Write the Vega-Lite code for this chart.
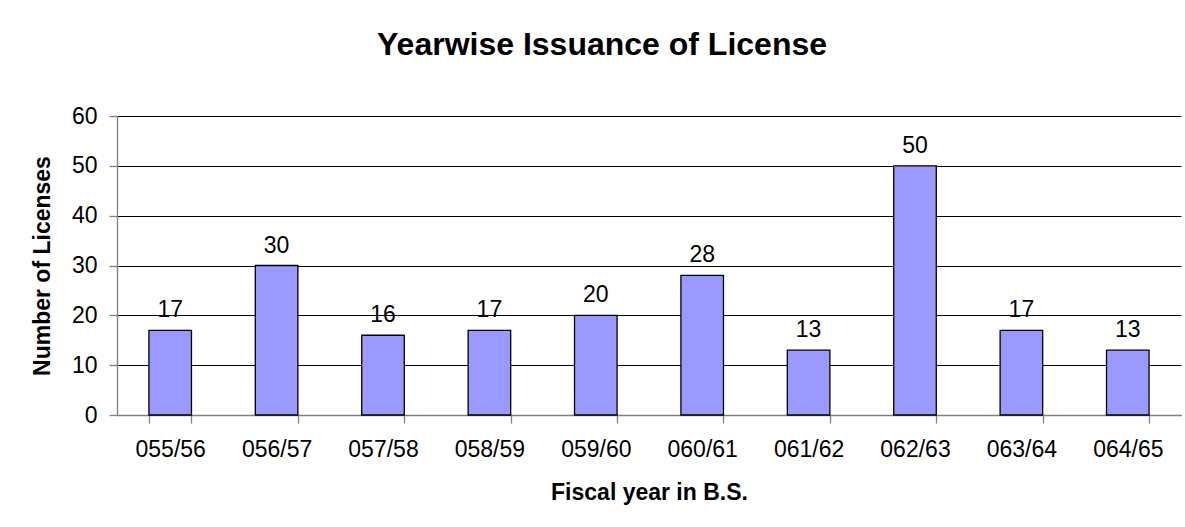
{
  "$schema": "https://vega.github.io/schema/vega-lite/v6.json",
  "width": 1064,
  "height": 299,
  "autosize": "none",
  "padding": {"left": 117, "top": 116, "right": 4, "bottom": 112},
  "background": "white",
  "title": {
    "text": "Yearwise Issuance of License",
    "fontSize": 32,
    "font": "Liberation Sans",
    "fontWeight": "bold",
    "color": "black",
    "anchor": "middle",
    "dx": -47,
    "offset": 43
  },
  "data": {
    "values": [
      {"year": "055/56", "licenses": 17},
      {"year": "056/57", "licenses": 30},
      {"year": "057/58", "licenses": 16},
      {"year": "058/59", "licenses": 17},
      {"year": "059/60", "licenses": 20},
      {"year": "060/61", "licenses": 28},
      {"year": "061/62", "licenses": 13},
      {"year": "062/63", "licenses": 50},
      {"year": "063/64", "licenses": 17},
      {"year": "064/65", "licenses": 13}
    ]
  },
  "encoding": {
    "x": {
      "field": "year",
      "type": "nominal",
      "sort": null,
      "scale": {"paddingInner": 0.6, "paddingOuter": 0.3},
      "axis": {
        "title": "Fiscal year in B.S.",
        "labelAngle": 0,
        "tickBand": "extent",
        "tickSize": 8,
        "labelPadding": 15,
        "titlePadding": 20,
        "grid": false
      }
    },
    "y": {
      "field": "licenses",
      "type": "quantitative",
      "scale": {"domain": [0, 60], "nice": false},
      "axis": {
        "title": "Number of Licenses",
        "values": [0, 10, 20, 30, 40, 50, 60],
        "tickSize": 8,
        "labelPadding": 12,
        "titlePadding": 17,
        "grid": true,
        "gridColor": "#000000",
        "gridWidth": 1,
        "gridOpacity": 1
      }
    }
  },
  "layer": [
    {
      "mark": {"type": "bar", "fill": "#9999FF", "stroke": "#000000", "strokeWidth": 1.3}
    },
    {
      "mark": {
        "type": "text",
        "dy": -13,
        "baseline": "alphabetic",
        "fontSize": 23,
        "font": "Liberation Sans",
        "color": "#000000"
      },
      "encoding": {"text": {"field": "licenses", "type": "quantitative"}}
    }
  ],
  "config": {
    "view": {"stroke": null},
    "axis": {
      "domainColor": "#808080",
      "domainWidth": 1.3,
      "tickColor": "#808080",
      "tickWidth": 1.3,
      "labelFont": "Liberation Sans",
      "labelFontSize": 23,
      "labelColor": "#000000",
      "titleFont": "Liberation Sans",
      "titleFontSize": 23,
      "titleFontWeight": "bold",
      "titleColor": "#000000"
    }
  }
}
